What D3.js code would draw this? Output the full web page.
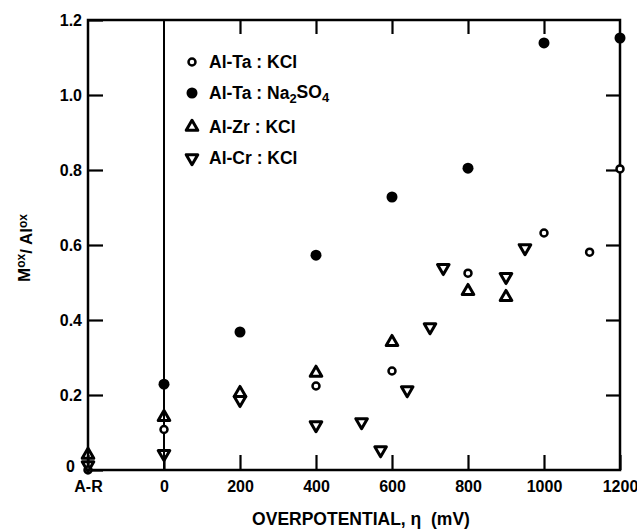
<!DOCTYPE html>
<html>
<head>
<meta charset="utf-8">
<script src="https://cdn.jsdelivr.net/npm/d3@7"></script>
<style>
  body { margin: 0; background: #fff; }
  svg text { font-family: "Liberation Sans", Arial, Helvetica, sans-serif; font-weight: bold; fill: #000; }
</style>
</head>
<body>
<div id="chart"></div>
<script>
// x position -200 stands for the "A-R" column
const xTicks = [-200, 0, 200, 400, 600, 800, 1000, 1200];
const yTicks = [0, 0.2, 0.4, 0.6, 0.8, 1.0, 1.2];

// Al-Ta : KCl (open circles)
const taKclX = [-200, 0, 400, 600, 800, 1000, 1120, 1200];
const taKclY = [0.0, 0.108, 0.224, 0.264, 0.525, 0.632, 0.581, 0.803];

// Al-Ta : Na2SO4 (filled circles)
const taNaX = [0, 200, 400, 600, 800, 1000, 1200];
const taNaY = [0.229, 0.368, 0.573, 0.728, 0.805, 1.139, 1.152];

// Al-Zr : KCl (up triangles)
const zrKclX = [-200, 0, 200, 400, 600, 800, 900];
const zrKclY = [0.04, 0.141, 0.205, 0.259, 0.341, 0.477, 0.461];

// Al-Cr : KCl (down triangles)
const crKclX = [-200, 0, 200, 400, 520, 570, 640, 700, 735, 900, 950];
const crKclY = [0.013, 0.043, 0.187, 0.12, 0.128, 0.053, 0.213, 0.381, 0.539, 0.515, 0.592];

const margin = { left: 88, right: 17, top: 20, bottom: 61 };
const W = 637, H = 531;
const width = W - margin.left - margin.right;
const height = H - margin.top - margin.bottom;

const svg = d3.select("#chart").append("svg")
    .attr("width", W).attr("height", H)
  .append("g")
    .attr("transform", "translate(" + margin.left + "," + margin.top + ")");

const x = d3.scaleLinear().domain([-200, 1200]).range([0, width]);
const y = d3.scaleLinear().domain([0, 1.2]).range([height, 0]);

// bottom axis, ticks pointing inward
const xAxis = svg.append("g")
    .attr("transform", "translate(0," + height + ")")
    .call(d3.axisBottom(x).tickValues(xTicks)
      .tickFormat(d => d === -200 ? "A-R" : d)
      .tickSizeInner(-15).tickSizeOuter(0).tickPadding(11));
// top axis ticks only
const xTop = svg.append("g")
    .call(d3.axisTop(x).tickValues(xTicks.slice(2, 7))
      .tickFormat("").tickSizeInner(-14).tickSizeOuter(0));

const yAxis = svg.append("g")
    .call(d3.axisLeft(y).tickValues(yTicks)
      .tickFormat(d => d === 0 ? "0" : d3.format(".1f")(d))
      .tickSizeInner(-15).tickSizeOuter(0).tickPadding(6));
const yRight = svg.append("g")
    .attr("transform", "translate(" + width + ",0)")
    .call(d3.axisRight(y).tickValues(yTicks.slice(1, 6))
      .tickFormat("").tickSizeInner(-14).tickSizeOuter(0));

[xAxis, xTop, yAxis, yRight].forEach(g => {
  g.select(".domain").remove();
  g.selectAll("line").attr("stroke", "#000").attr("stroke-width", 2.2);
  g.selectAll("text").style("font-size", "16px").attr("fill", "#000");
});
// zero label sits a little left/low in the original
yAxis.selectAll(".tick text").filter(d => d === 0).attr("x", -13).attr("dy", "0.1em");

// frame
svg.append("rect")
    .attr("width", width).attr("height", height)
    .attr("fill", "none").attr("stroke", "#000").attr("stroke-width", 2.5);

// vertical line at 0 mV
svg.append("line")
    .attr("x1", x(0)).attr("x2", x(0))
    .attr("y1", 0).attr("y2", height)
    .attr("stroke", "#000").attr("stroke-width", 2);

const zip = (xs, ys) => xs.map((v, i) => ({ x: v, y: ys[i] }));
const tri = d3.symbol(d3.symbolTriangle, 58);

svg.append("g").selectAll("circle")
  .data(zip(taKclX, taKclY)).join("circle")
    .attr("cx", d => x(d.x)).attr("cy", d => y(d.y)).attr("r", 3.5)
    .attr("fill", "#fff").attr("stroke", "#000").attr("stroke-width", 2.5);

svg.append("g").selectAll("circle")
  .data(zip(taNaX, taNaY)).join("circle")
    .attr("cx", d => x(d.x)).attr("cy", d => y(d.y)).attr("r", 5.5)
    .attr("fill", "#000");

svg.append("g").selectAll("path")
  .data(zip(zrKclX, zrKclY)).join("path")
    .attr("d", tri)
    .attr("transform", d => "translate(" + x(d.x) + "," + y(d.y) + ")")
    .attr("fill", "none").attr("stroke", "#000").attr("stroke-width", 3)
    .attr("stroke-linejoin", "round");

svg.append("g").selectAll("path")
  .data(zip(crKclX, crKclY)).join("path")
    .attr("d", tri)
    .attr("transform", d => "translate(" + x(d.x) + "," + y(d.y) + ") rotate(180)")
    .attr("fill", "none").attr("stroke", "#000").attr("stroke-width", 3)
    .attr("stroke-linejoin", "round");

// legend
const legend = svg.append("g").attr("transform", "translate(104,0)");
const legRows = [42, 73, 107, 138];
legend.append("circle").attr("cx", 0).attr("cy", legRows[0]).attr("r", 3.5)
  .attr("fill", "#fff").attr("stroke", "#000").attr("stroke-width", 2.5);
legend.append("circle").attr("cx", 0).attr("cy", legRows[1]).attr("r", 5.5).attr("fill", "#000");
legend.append("path").attr("d", tri).attr("transform", "translate(0," + legRows[2] + ")")
  .attr("fill", "none").attr("stroke", "#000").attr("stroke-width", 3).attr("stroke-linejoin", "round");
legend.append("path").attr("d", tri).attr("transform", "translate(0," + legRows[3] + ") rotate(180)")
  .attr("fill", "none").attr("stroke", "#000").attr("stroke-width", 3).attr("stroke-linejoin", "round");

const lt = (row) => legend.append("text").attr("x", 17).attr("y", legRows[row]).attr("dy", "0.36em")
  .style("font-size", "17.5px");
lt(0).text("Al-Ta : KCl");
const t1 = lt(1);
t1.append("tspan").text("Al-Ta : Na");
t1.append("tspan").attr("dy", "0.3em").style("font-size", "13px").text("2");
t1.append("tspan").attr("dy", "-0.3em").text("SO");
t1.append("tspan").attr("dy", "0.3em").style("font-size", "13px").text("4");
lt(2).text("Al-Zr : KCl");
lt(3).text("Al-Cr : KCl");

// axis titles
svg.append("text")
    .attr("x", 273).attr("y", height + 55)
    .attr("text-anchor", "middle").style("font-size", "17.5px")
    .text("OVERPOTENTIAL, \u03B7\u00A0\u00A0(mV)");

const yt = svg.append("text")
    .attr("transform", "translate(-58," + 228 + ") rotate(-90)")
    .attr("text-anchor", "middle").style("font-size", "17px");
yt.append("tspan").text("M");
yt.append("tspan").attr("dy", "-0.45em").style("font-size", "12px").text("ox");
yt.append("tspan").attr("dy", "0.45em").text("/ Al");
yt.append("tspan").attr("dy", "-0.45em").style("font-size", "12px").text("ox");
</script>
</body>
</html>
